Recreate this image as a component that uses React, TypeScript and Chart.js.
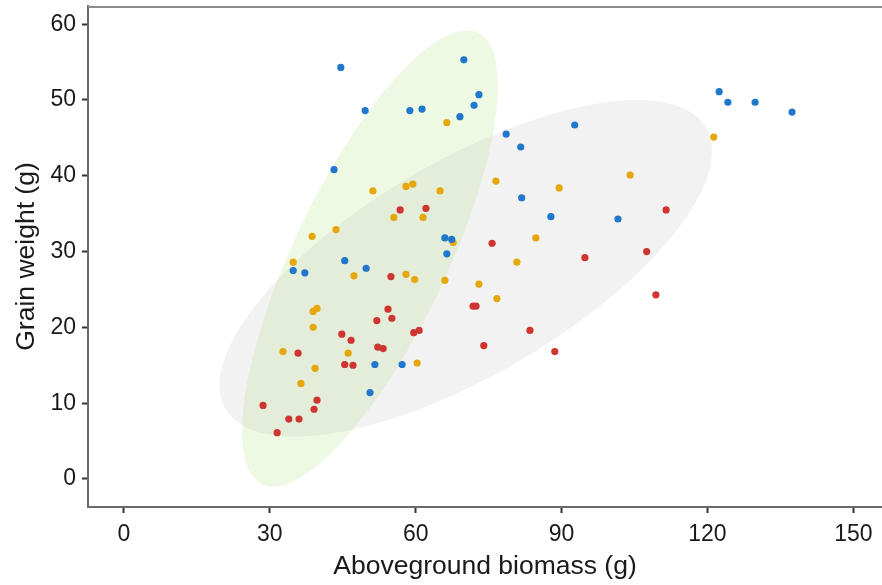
import { useEffect, useRef } from 'react';
import { Chart, registerables } from 'chart.js';

Chart.register(...registerables);

// Axis ticks
const xTickValues = [0, 30, 60, 90, 120, 150];
const yTickValues = [0, 10, 20, 30, 40, 50, 60];

// Series
const blueX = [44.6, 49.6, 43.2, 69.9, 58.8, 61.3, 73.0, 72.0, 69.1, 78.6, 81.6, 92.7, 81.8, 87.8, 101.6, 66.0, 67.4, 66.4, 122.4, 124.2, 129.8, 137.4, 45.4, 34.8, 37.2, 49.8, 51.6, 50.6, 57.2];
const blueY = [54.3, 48.6, 40.8, 55.3, 48.6, 48.8, 50.7, 49.3, 47.8, 45.5, 43.8, 46.7, 37.1, 34.6, 34.3, 31.8, 31.6, 29.7, 51.1, 49.7, 49.7, 48.4, 28.8, 27.5, 27.2, 27.8, 15.1, 11.4, 15.1];

const orangeX = [51.2, 43.6, 38.7, 34.8, 66.4, 58.0, 59.4, 65.0, 55.5, 61.5, 67.7, 76.5, 89.5, 104.1, 84.7, 80.8, 121.3, 47.3, 38.9, 39.7, 38.9, 32.7, 46.1, 39.3, 36.4, 58.0, 59.8, 66.0, 73.0, 76.7, 60.3];
const orangeY = [38.0, 32.9, 32.0, 28.6, 47.0, 38.6, 38.9, 38.0, 34.5, 34.5, 31.2, 39.3, 38.4, 40.1, 31.8, 28.6, 45.1, 26.8, 22.1, 22.5, 20.0, 16.8, 16.6, 14.6, 12.6, 27.0, 26.3, 26.2, 25.7, 23.8, 15.3];

const redX = [56.8, 62.1, 75.7, 94.8, 107.5, 111.5, 52.0, 44.8, 46.7, 52.2, 53.3, 35.8, 45.4, 47.1, 39.7, 28.6, 39.1, 33.9, 36.0, 31.5, 54.9, 54.3, 55.1, 59.6, 60.7, 71.8, 72.4, 74.0, 83.5, 88.6, 109.4];
const redY = [35.5, 35.7, 31.1, 29.2, 30.0, 35.5, 20.9, 19.1, 18.3, 17.4, 17.2, 16.6, 15.1, 15.0, 10.4, 9.7, 9.2, 7.9, 7.9, 6.1, 26.7, 22.4, 21.2, 19.3, 19.6, 22.8, 22.8, 17.6, 19.6, 16.8, 24.3];

// Ellipses in data units: centre, and two conjugate semi-diameters
const greenEllipse = [50.6, 29.1, 19.9, 30.1, 17.2, 0];
const greyEllipse = [70.3, 27.8, 35.2, 22.2, 36.4, 0];

const FONT = "'Liberation Sans', Arial, sans-serif";

function zip(xs: number[], ys: number[]) {
  return xs.map((x, i) => ({ x, y: ys[i] }));
}

const ellipsePlugin = {
  id: 'ellipses',
  beforeDatasetsDraw(chart: any) {
    const { ctx, chartArea, scales } = chart;
    const xs = scales.x;
    const ys = scales.y;
    ctx.save();
    ctx.beginPath();
    ctx.rect(chartArea.left, chartArea.top, chartArea.right - chartArea.left, chartArea.bottom - chartArea.top);
    ctx.clip();
    const list: [number[], string][] = [
      [greenEllipse, 'rgba(180,230,140,0.23)'],
      [greyEllipse, 'rgba(128,128,128,0.105)'],
    ];
    for (const [e, color] of list) {
      const [cx, cy, ax, ay, bx, by] = e;
      ctx.beginPath();
      const n = 180;
      for (let i = 0; i <= n; i++) {
        const t = (i / n) * Math.PI * 2;
        const dx = cx + ax * Math.cos(t) + bx * Math.sin(t);
        const dy = cy + ay * Math.cos(t) + by * Math.sin(t);
        const px = xs.getPixelForValue(dx);
        const py = ys.getPixelForValue(dy);
        if (i === 0) ctx.moveTo(px, py);
        else ctx.lineTo(px, py);
      }
      ctx.closePath();
      ctx.fillStyle = color;
      ctx.fill();
    }
    ctx.restore();
  },
  afterDraw(chart: any) {
    const { ctx, chartArea } = chart;
    ctx.save();
    ctx.strokeStyle = '#8a8a8a';
    ctx.lineWidth = 2;
    ctx.beginPath();
    ctx.moveTo(chartArea.left, chartArea.top + 1);
    ctx.lineTo(chartArea.right, chartArea.top + 1);
    ctx.stroke();
    ctx.restore();
  },
};

export default function App() {
  const ref = useRef<HTMLCanvasElement | null>(null);
  useEffect(() => {
    if (!ref.current) return;
    const pointStyle = (c: string) => ({
      backgroundColor: c,
      borderColor: c,
      borderWidth: 0,
      pointRadius: 3.6,
      pointHoverRadius: 3.6,
    });
    const chart = new Chart(ref.current, {
      type: 'scatter',
      data: {
        datasets: [
          { label: 'Blue', data: zip(blueX, blueY), ...pointStyle('#1f78cc') },
          { label: 'Orange', data: zip(orangeX, orangeY), ...pointStyle('#e5a70a') },
          { label: 'Red', data: zip(redX, redY), ...pointStyle('#cf3530') },
        ],
      },
      options: {
        animation: false,
        responsive: false,
        devicePixelRatio: 1,
        layout: { autoPadding: false, padding: { top: 6, right: 0, left: 0, bottom: 0 } },
        plugins: { legend: { display: false }, tooltip: { enabled: false } },
        scales: {
          x: {
            type: 'linear',
            min: -7.4,
            max: 155.9,
            afterBuildTicks: (s: any) => {
              s.ticks = xTickValues.map((v) => ({ value: v }));
            },
            afterFit: (s: any) => {
              s.height = 78;
              s.paddingLeft = 0;
              s.paddingRight = 0;
            },
            border: { color: '#6a6a6a', width: 2 },
            grid: { drawOnChartArea: false, drawTicks: true, tickLength: 6, tickColor: '#333', tickWidth: 2 },
            ticks: { color: '#1a1a1a', font: { family: FONT, size: 23 }, padding: 8, maxRotation: 0 },
            title: { display: true, text: 'Aboveground biomass (g)', color: '#1a1a1a', font: { family: FONT, size: 26.5 }, padding: { top: 0, bottom: 2 } },
          },
          y: {
            type: 'linear',
            min: -3.7,
            max: 62.4,
            afterBuildTicks: (s: any) => {
              s.ticks = yTickValues.map((v) => ({ value: v }));
            },
            afterFit: (s: any) => {
              s.width = 88;
              s.paddingTop = 0;
              s.paddingBottom = 0;
            },
            border: { color: '#6a6a6a', width: 2 },
            grid: { drawOnChartArea: false, drawTicks: true, tickLength: 6, tickColor: '#333', tickWidth: 2 },
            ticks: { color: '#1a1a1a', font: { family: FONT, size: 23 }, padding: 6 },
            title: { display: true, text: 'Grain weight (g)', color: '#1a1a1a', font: { family: FONT, size: 26.5 }, padding: { top: 11, bottom: 0 } },
          },
        },
      },
      plugins: [ellipsePlugin],
    });
    return () => chart.destroy();
  }, []);
  return (
    <div style={{ position: 'absolute', left: 0, top: 0, width: 882, height: 585, background: '#fff' }}>
      <canvas ref={ref} width={882} height={585} style={{ width: 882, height: 585 }} />
    </div>
  );
}
